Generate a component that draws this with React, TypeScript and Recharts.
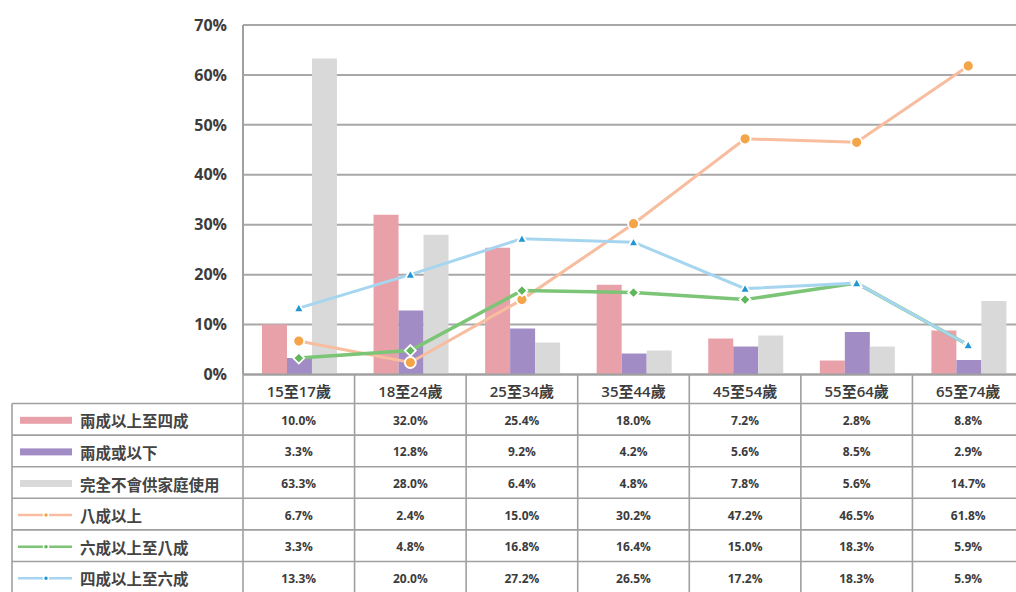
import React from 'react';
import { ComposedChart, Bar, Line, XAxis, YAxis, CartesianGrid } from 'recharts';

const categories = ['15至17歲', '18至24歲', '25至34歲', '35至44歲', '45至54歲', '55至64歲', '65至74歲'];
const twoToFour = [10.0, 32.0, 25.4, 18.0, 7.2, 2.8, 8.8];
const twoOrLess = [3.3, 12.8, 9.2, 4.2, 5.6, 8.5, 2.9];
const neverFamily = [63.3, 28.0, 6.4, 4.8, 7.8, 5.6, 14.7];
const eightPlus = [6.7, 2.4, 15.0, 30.2, 47.2, 46.5, 61.8];
const sixToEight = [3.3, 4.8, 16.8, 16.4, 15.0, 18.3, 5.9];
const fourToSix = [13.3, 20.0, 27.2, 26.5, 17.2, 18.3, 5.9];
const yTicks = [0, 10, 20, 30, 40, 50, 60, 70];

const seriesNames = ['兩成以上至四成', '兩成或以下', '完全不會供家庭使用', '八成以上', '六成以上至八成', '四成以上至六成'];
const seriesValues = [twoToFour, twoOrLess, neverFamily, eightPlus, sixToEight, fourToSix];
const keys = ['a', 'b', 'c', 'd', 'e', 'f'];

const data = categories.map((c, i) => {
  const row: any = { cat: c };
  keys.forEach((k, j) => (row[k] = seriesValues[j][i]));
  return row;
});

const PINK = '#E8A1A9';
const PURPLE = '#A28CC5';
const GRAY = '#D9D9D9';
const ORANGE_LINE = '#F7BD9E';
const ORANGE_DOT = '#F4A548';
const GREEN_LINE = '#7CC476';
const GREEN_DOT = '#5FB65B';
const BLUE_LINE = '#A6D6EF';
const BLUE_DOT = '#2196D3';

const BORDER = '#A0A0A0';
const TEXT = '#3C3C3C';
const FONT = "'Open Sans','Noto Sans CJK TC',sans-serif";
const CJK = "'Noto Sans CJK TC','Open Sans',sans-serif";

const CHART_W = 1030;
const CHART_H = 600;
const PLOT_LEFT = 243;
const BAND_FALLBACK = (CHART_W - 6 - PLOT_LEFT) / 7;
const HEADER_H = 29;
const ROW_H = 31.6;
const LEGEND_X = 12;

const legendKinds = ['bar', 'bar', 'bar', 'circle', 'diamond', 'triangle'];
const legendColors = [
  [PINK, PINK],
  [PURPLE, PURPLE],
  [GRAY, GRAY],
  [ORANGE_LINE, ORANGE_DOT],
  [GREEN_LINE, GREEN_DOT],
  [BLUE_LINE, BLUE_DOT],
];

function Marker({ kind, cx, cy, color, stroke = '#fff', sw = 1.8 }: any) {
  if (kind === 'circle') return <circle cx={cx} cy={cy} r={5.5} fill={color} stroke={stroke} strokeWidth={sw} />;
  if (kind === 'diamond') {
    const r = 5.5;
    return <polygon points={`${cx},${cy - r} ${cx + r},${cy} ${cx},${cy + r} ${cx - r},${cy}`} fill={color} stroke={stroke} strokeWidth={sw} />;
  }
  const r = 5;
  return <polygon points={`${cx},${cy - r} ${cx + r},${cy + r * 0.8} ${cx - r},${cy + r * 0.8}`} fill={color} stroke={stroke} strokeWidth={sw} />;
}

function TableTick(props: any) {
  const { x, y, payload, index } = props;
  const half = payload && payload.offset ? payload.offset : BAND_FALLBACK / 2;
  const left = x - half;
  const right = x + half;
  const top = y;
  const rowTops = [top, top + HEADER_H];
  for (let i = 1; i <= 6; i++) rowTops.push(top + HEADER_H + ROW_H * i);
  const bottom = rowTops[rowTops.length - 1];
  const els: any[] = [];
  els.push(<line key="vl" x1={left} y1={top} x2={left} y2={bottom} stroke={BORDER} strokeWidth={1.6} />);
  if (index === categories.length - 1)
    els.push(<line key="vr" x1={right} y1={top} x2={right} y2={bottom} stroke={BORDER} strokeWidth={1.6} />);
  rowTops.slice(1).forEach((ry, i) =>
    els.push(<line key={'h' + i} x1={left} y1={ry} x2={right} y2={ry} stroke={BORDER} strokeWidth={1.6} />)
  );
  els.push(
    <text key="cat" x={x} y={top + HEADER_H / 2 + 2} textAnchor="middle" dominantBaseline="central" fontSize={15} fontWeight={600} fill={TEXT} fontFamily={FONT}>
      {payload.value}
    </text>
  );
  seriesValues.forEach((vals, j) => {
    const cy = rowTops[j + 1] + ROW_H / 2 + 1;
    els.push(
      <text key={'v' + j} x={x} y={cy} textAnchor="middle" dominantBaseline="central" fontSize={12} fontWeight={700} fill={TEXT} fontFamily={FONT}>
        {vals[index].toFixed(1) + '%'}
      </text>
    );
  });
  if (index === 0) {
    const lt = rowTops[1];
    els.push(<line key="ll" x1={LEGEND_X} y1={lt} x2={LEGEND_X} y2={bottom} stroke={BORDER} strokeWidth={1.6} />);
    rowTops.slice(1).forEach((ry, i) =>
      els.push(<line key={'lh' + i} x1={LEGEND_X} y1={ry} x2={left} y2={ry} stroke={BORDER} strokeWidth={1.6} />)
    );
    seriesNames.forEach((name, j) => {
      const cy = rowTops[j + 1] + ROW_H / 2 + 1;
      const kind = legendKinds[j];
      if (kind === 'bar') {
        els.push(<rect key={'ls' + j} x={20} y={cy - 3.5} width={52} height={7} fill={legendColors[j][0]} />);
      } else {
        els.push(<line key={'ll' + j} x1={18} y1={cy} x2={72} y2={cy} stroke={legendColors[j][0]} strokeWidth={2.5} />);
        els.push(<circle key={'lm' + j} cx={46} cy={cy} r={2.5} fill={legendColors[j][1]} stroke="#fff" strokeWidth={1.5} />);
      }
      els.push(
        <text key={'lt' + j} x={80} y={cy} dominantBaseline="central" fontSize={15.5} fontWeight={700} fill="#444" fontFamily={CJK}>
          {name}
        </text>
      );
    });
  }
  return <g>{els}</g>;
}

const makeDot = (kind: string, color: string) => (p: any) => {
  if (p.cx == null || p.cy == null) return <g key={p.index} />;
  return (
    <g key={'d' + kind + p.index}>
      <Marker kind={kind} cx={p.cx} cy={p.cy} color={color} />
    </g>
  );
};

export default function App() {
  return (
    <div style={{ position: 'fixed', left: 0, top: 0, width: 1016, height: 592, overflow: 'hidden', background: '#fff' }}>
      <ComposedChart
        width={CHART_W}
        height={CHART_H}
        data={data}
        margin={{ top: 25, right: 6, bottom: 0, left: 0 }}
        barCategoryGap="17%"
        barGap={0}
      >
        <CartesianGrid vertical={false} stroke="#A8A8A8" strokeWidth={2} />
        <XAxis
          dataKey="cat"
          height={CHART_H - 25 - 349.5}
          interval={0}
          tickLine={false}
          tickSize={0}
          tickMargin={0}
          axisLine={{ stroke: BORDER, strokeWidth: 2 }}
          tick={<TableTick />}
        />
        <YAxis
          width={PLOT_LEFT}
          domain={[0, 70]}
          ticks={yTicks}
          tickFormatter={(v: number) => `${v}%`}
          tickLine={false}
          tickSize={0}
          tickMargin={16}
          axisLine={{ stroke: BORDER, strokeWidth: 2 }}
          tick={{ fontSize: 16, fontWeight: 700, fill: TEXT, fontFamily: FONT }}
        />
        <Bar dataKey="a" fill={PINK} isAnimationActive={false} />
        <Bar dataKey="b" fill={PURPLE} isAnimationActive={false} />
        <Bar dataKey="c" fill={GRAY} isAnimationActive={false} />
        <Line dataKey="d" stroke={ORANGE_LINE} strokeWidth={3} dot={makeDot('circle', ORANGE_DOT)} activeDot={false} isAnimationActive={false} />
        <Line dataKey="e" stroke={GREEN_LINE} strokeWidth={3.5} dot={makeDot('diamond', GREEN_DOT)} activeDot={false} isAnimationActive={false} />
        <Line dataKey="f" stroke={BLUE_LINE} strokeWidth={3} dot={makeDot('triangle', BLUE_DOT)} activeDot={false} isAnimationActive={false} />
      </ComposedChart>
    </div>
  );
}
